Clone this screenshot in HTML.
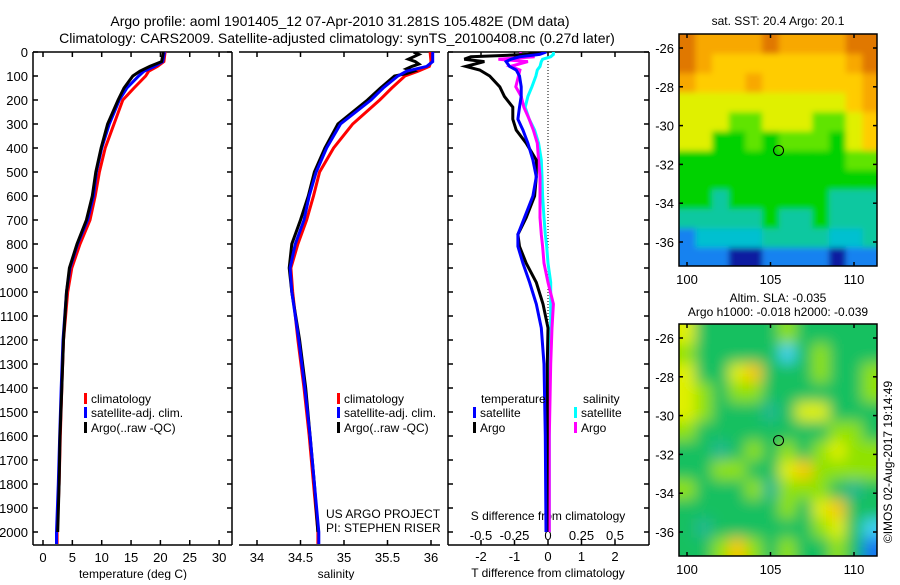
<!DOCTYPE html>
<html><head><meta charset="utf-8"><style>
html,body{margin:0;padding:0;background:#fff;}
svg text{font-family:"Liberation Sans",sans-serif;fill:#000;}
</style></head><body>
<svg id="fig" width="900" height="580" viewBox="0 0 900 580" xmlns="http://www.w3.org/2000/svg">
<defs>
<clipPath id="cp1"><rect x="33" y="52" width="199" height="493"/></clipPath>
<clipPath id="cp2"><rect x="239" y="52" width="201" height="493"/></clipPath>
<clipPath id="cp3"><rect x="448" y="52" width="201" height="493"/></clipPath>
<clipPath id="cm1"><rect x="679" y="34" width="198" height="232"/></clipPath>
<clipPath id="cm2"><rect x="679" y="324" width="198" height="232"/></clipPath>
<filter id="bl1" x="-20%" y="-20%" width="140%" height="140%"><feGaussianBlur stdDeviation="3"/></filter>
<filter id="bl2" x="-20%" y="-20%" width="140%" height="140%"><feGaussianBlur stdDeviation="7"/></filter>
</defs>
<text x="340" y="26" font-size="14" text-anchor="middle">Argo profile: aoml 1901405_12 07-Apr-2010 31.281S 105.482E (DM data)</text>
<text x="337" y="43" font-size="14" text-anchor="middle">Climatology: CARS2009. Satellite-adjusted climatology: synTS_20100408.nc (0.27d later)</text>
<g id="g"></g>
</svg>
<script>
// ---- data ----
var depthTicks=[0,100,200,300,400,500,600,700,800,900,1000,1100,1200,1300,1400,1500,1600,1700,1800,1900,2000];
var tTicks=[0,5,10,15,20,25,30];
var sTicks=[34,34.5,35,35.5,36];
var sTickLabels=["34","34.5","35","35.5","36"];
var dTTicks=[-2,-1,0,1,2];
var dSTicks=[-0.5,-0.25,0,0.25,0.5];
var dSTickLabels=["-0.5","-0.25","0","0.25","0.5"];

var profDepth=[0,40,60,80,100,150,200,300,400,500,600,700,800,900,1000,1200,1400,1600,1800,2000,2050];
var tClim=[20.8,20.6,19.5,18,17.5,15.5,13.6,12.1,10.6,9.6,8.9,8.0,6.3,4.9,4.2,3.5,3.2,2.95,2.75,2.4,2.4];
var tSat=[20.7,20.4,19,17.2,16.3,14.3,13.0,11.3,10.0,9.1,8.6,7.6,5.9,4.6,4.0,3.4,3.1,2.85,2.6,2.3,2.3];
var tArgo=[20.5,20.2,18.2,16.5,15.3,13.8,12.8,11.0,9.9,9.0,8.4,7.4,5.8,4.5,4.0,3.5,3.2,2.9,2.75,2.5];
var argoDepth=[0,40,60,80,100,150,200,300,400,500,600,700,800,900,1000,1200,1400,1600,1800,2000];

var sClim=[35.99,36.0,35.98,35.85,35.70,35.55,35.41,35.10,34.88,34.72,34.65,34.57,34.47,34.39,34.41,34.47,34.54,34.6,34.65,34.7,34.7];
var sSat=[36.02,36.02,35.95,35.72,35.62,35.45,35.31,34.96,34.80,34.68,34.60,34.54,34.44,34.38,34.40,34.48,34.55,34.61,34.66,34.71,34.71];
var sArgoDepth=[0,10,20,30,40,50,60,70,80,90,100,150,200,300,400,500,600,700,800,900,1000,1200,1400,1600,1800,2000];
var sArgo=[35.8,35.86,35.8,35.74,35.82,35.86,35.78,35.72,35.8,35.72,35.58,35.42,35.27,34.93,34.78,34.66,34.59,34.5,34.4,34.37,34.40,34.49,34.56,34.61,34.66,34.7];

var dDepth=[0,10,20,30,40,60,75,100,145,185,230,280,325,380,450,520,600,690,760,810,880,960,1050,1150,1300,1600,2000];
var dTSat=[-0.05,-0.25,-0.85,-1.1,-1.25,-1.15,-0.95,-0.85,-0.8,-0.8,-0.85,-0.9,-0.75,-0.6,-0.45,-0.35,-0.45,-0.7,-0.9,-0.9,-0.75,-0.55,-0.35,-0.2,-0.12,-0.08,-0.06];
var dTArgo=[-0.2,-0.6,-2.3,-2.5,-1.9,-2.45,-2.04,-1.74,-1.44,-1.3,-1.05,-1.05,-0.95,-0.65,-0.35,-0.35,-0.4,-0.65,-0.9,-0.85,-0.65,-0.35,-0.15,0,-0.02,-0.02,-0.03];
var dSSat=[0.04,0.04,0.02,-0.04,-0.05,-0.06,-0.08,-0.09,-0.12,-0.15,-0.17,-0.14,-0.1,-0.07,-0.05,-0.045,-0.04,-0.03,-0.02,-0.01,0.0,0.02,0.02,0.02,0.01,0.01,0.01];
var dSArgo=[-0.2,-0.21,-0.1,-0.37,-0.15,-0.28,-0.21,-0.22,-0.24,-0.2,-0.18,-0.14,-0.11,-0.08,-0.07,-0.06,-0.06,-0.06,-0.05,-0.04,-0.03,0.0,0.04,0.03,0.02,0.01,0.01];

var mapLons=[100,105,110];
var mapLats=[-26,-28,-30,-32,-34,-36];
var sstGrid=[
[9,8,8,8,8,9,8,8,8,8,9,9],
[9,8,7,7,7,7,7,7,7,7,8,9],
[8,7,7,7,8,7,7,7,7,7,7,8],
[6,6,6,6,6,6,6,6,6,6,7,8],
[6,6,6,5,5,6,6,6,5,5,6,7],
[6,6,4,4,5,4,5,5,5,4,6,7],
[4,4,4,4,4,4,4,4,4,4,5,5],
[4,4,4,4,4,4,4,4,4,4,4,4],
[4,4,3,4,4,4,4,4,4,3,3,3],
[3,3,3,3,3,4,3,3,4,3,3,3],
[1,2,2,2,2,3,3,3,3,2,2,3],
[1,1,1,0,0,1,1,1,1,0,1,1]];
var slaGrid=[
[5,3,3,3,3,3,4,3,3,3,3,3],
[4,3,3,3,3,3,1,3,4,3,3,3],
[5,3,3,5,6,3,3,3,4,3,3,4],
[5,4,3,4,4,3,3,3,3,3,3,4],
[5,4,3,3,3,2,3,5,5,3,3,3],
[4,3,3,3,3,3,3,3,3,4,4,3],
[3,3,2,3,4,3,4,3,4,5,4,4],
[3,3,4,4,3,3,5,6,4,4,4,4],
[4,3,3,3,4,2,4,4,4,3,2,3],
[3,3,3,3,3,3,4,3,5,6,3,3],
[3,2,3,3,3,3,3,3,4,5,3,1],
[3,3,4,6,4,3,4,3,3,4,3,0]];
var argoLon=105.482, argoLat=-31.281;

// ---- drawing ----
var NS="http://www.w3.org/2000/svg", G=document.getElementById('g');
function mk(tag,at,par){var e=document.createElementNS(NS,tag);for(var k in at)e.setAttribute(k,at[k]);(par||G).appendChild(e);return e;}
function Y(d){return 52+d*0.24;}
function XT(t){return 43+t*5.87;}
function XS(s){return 257+(s-34)*87;}
function XDT(t){return 548+t*33.5;}
function XDS(s){return 548+s*134;}
function MX(lon){return 687+(lon-100)*16.7;}
function MY1(lat){return 48+(-26-lat)*19.4;}
function MY2(lat){return 338+(-26-lat)*19.4;}

function line(x1,y1,x2,y2,name,extra){var e=mk('line',{x1:x1,y1:y1,x2:x2,y2:y2,stroke:'#000','stroke-width':1.5});


if(extra)for(var k in extra)e.setAttribute(k,extra[k]);return e;}
function txt(x,y,s,name,anchor,size){var e=mk('text',{x:x,y:y,'font-size':size||12,'text-anchor':anchor||'start'});e.textContent=s;


return e;}
function series(xs,ds,fx,color,clip,name){var p=[];for(var i=0;i<xs.length&&i<ds.length;i++)p.push(fx(xs[i]).toFixed(1)+','+Y(ds[i]).toFixed(1));
var e=mk('polyline',{points:p.join(' '),fill:'none',stroke:color,'stroke-width':3,'clip-path':'url(#'+clip+')'});

}

function frame(x0,x1,leftRight,name){
 line(x0,52,x1,52,name+'-top-axis');line(x0,545,x1,545,name+'-bottom-axis');
 if(leftRight){line(x0,52,x0,545,name+'-left-axis');line(x1,52,x1,545,name+'-right-axis');}
}
frame(33,232,true,'temp-panel');frame(239,440,false,'sal-panel');frame(448,649,true,'diff-panel');
depthTicks.forEach(function(d){
 line(33,Y(d),38,Y(d),'depth-tick');line(227,Y(d),232,Y(d),'depth-tick-right');
 line(448,Y(d),453,Y(d),'diff-depth-tick');line(644,Y(d),649,Y(d),'diff-depth-tick-right');
 txt(28,Y(d)+5,String(d),'depth-tick-label','end',13);
});
tTicks.forEach(function(t){line(XT(t),545,XT(t),540,'temp-tick');line(XT(t),52,XT(t),57,'temp-tick-top');txt(XT(t),562,String(t),'temp-tick-label','middle',13);});
txt(133,578,'temperature (deg C)','temp-axis-title','middle',12);
sTicks.forEach(function(s,i){line(XS(s),545,XS(s),540,'sal-tick');line(XS(s),52,XS(s),57,'sal-tick-top');txt(XS(s),562,sTickLabels[i],'sal-tick-label','middle',13);});
txt(336,578,'salinity','sal-axis-title','middle',12);
dTTicks.forEach(function(t){line(XDT(t),545,XDT(t),540,'dt-tick');line(XDT(t),52,XDT(t),57,'dt-tick-top');txt(XDT(t),561,String(t),'dt-tick-label','middle',13);});
dSTicks.forEach(function(s,i){txt(XDS(s),540,dSTickLabels[i],'ds-tick-label','middle',13);});
txt(548,520,'S difference from climatology','ds-axis-title','middle',12);
txt(548,577,'T difference from climatology','dt-axis-title','middle',12);
line(548,52,548,Y(1150),'zero-line',{'stroke-dasharray':'1,2','stroke-width':1});

series(tClim,profDepth,XT,'#ff0000','cp1','temp-climatology-line');
series(tSat,profDepth,XT,'#0000ff','cp1','temp-satellite-line');
series(tArgo,argoDepth,XT,'#000000','cp1','temp-argo-line');
series(sClim,profDepth,XS,'#ff0000','cp2','sal-climatology-line');
series(sArgo,sArgoDepth,XS,'#000000','cp2','sal-argo-line');
series(sSat,profDepth,XS,'#0000ff','cp2','sal-satellite-line');
series(dSSat,dDepth,XDS,'#00ffff','cp3','dsal-satellite-line');
series(dSArgo,dDepth,XDS,'#ff00ff','cp3','dsal-argo-line');
series(dTArgo,dDepth,XDT,'#000000','cp3','dtemp-argo-line');
series(dTSat,dDepth,XDT,'#0000ff','cp3','dtemp-satellite-line');

function leg(x,y,c,s,name){var r=mk('rect',{x:x,y:y-10,width:3,height:11,fill:c});


txt(x+7,y,s,name,'start',12);}
[[84,'temp'],[337,'sal']].forEach(function(p){
 leg(p[0],403,'#ff0000','climatology',p[1]+'-legend-climatology');
 leg(p[0],417,'#0000ff','satellite-adj. clim.',p[1]+'-legend-satellite');
 leg(p[0],432,'#000000','Argo(..raw -QC)',p[1]+'-legend-argo');
});
txt(481,403,'temperature','diff-legend-temperature-header','start',12);
txt(583,403,'salinity','diff-legend-salinity-header','start',12);
leg(473,417,'#0000ff','satellite','diff-legend-temp-satellite');
leg(473,432,'#000000','Argo','diff-legend-temp-argo');
leg(574,417,'#00ffff','satellite','diff-legend-sal-satellite');
leg(574,432,'#ff00ff','Argo','diff-legend-sal-argo');
txt(326,518,'US ARGO PROJECT','project-label','start',12);
txt(326,532,'PI: STEPHEN RISER','pi-label','start',12);

var sstCols=['#0a1ea0','#1482f0','#00c0d0','#10c8a0','#00d200','#60e400','#e0f000','#ffcc00','#f8a800','#e07800'];
var slaCols=['#1478f0','#40d0f0','#20b890','#18c060','#90e200','#e0f000','#f8c800'];
function drawMap(grid,cols,MY,clip,filt,name,cellName){
 var gg=mk('g',{'clip-path':'url(#'+clip+')'});
 
 
 var inner=mk('g',{filter:'url(#'+filt+')'},gg);
 var top=MY(-25.3);
 mk('rect',{x:660,y:top-20,width:240,height:280,fill:cols[grid[0][0]]},inner);
 for(var r=0;r<grid.length;r++)for(var c=0;c<grid[r].length;c++){
  var x0=MX(99.5+c),x1=MX(100.5+c),y0=MY(-25.3-r),y1=MY(-26.3-r);
  if(c==grid[r].length-1)x1+=20; if(r==grid.length-1)y1+=20; if(c==0)x0-=20; if(r==0)y0-=20;
  var e=mk('rect',{x:x0,y:y0,width:x1-x0+0.6,height:y1-y0+0.6,fill:cols[grid[r][c]]},inner);
  
  
 }
 var ci=mk('circle',{cx:MX(argoLon),cy:MY(argoLat),r:5,fill:'none',stroke:'#000','stroke-width':1});
 
 
}
drawMap(sstGrid,sstCols,MY1,'cm1','bl1','sst-map','sst-cell');
drawMap(slaGrid,slaCols,MY2,'cm2','bl2','sla-map','sla-cell');
[[34,266,MY1,'sst'],[324,556,MY2,'sla']].forEach(function(m){
 var r=mk('rect',{x:679,y:m[0],width:198,height:m[1]-m[0],fill:'none',stroke:'#000','stroke-width':1.5});
 
 
 mapLats.forEach(function(la){line(679,m[2](la),683,m[2](la),m[3]+'-lat-tick');line(873,m[2](la),877,m[2](la),m[3]+'-lat-tick-right');txt(674,m[2](la)+5,String(la),m[3]+'-lat-label','end',13);});
 mapLons.forEach(function(lo){line(MX(lo),m[1],MX(lo),m[1]-4,m[3]+'-lon-tick');line(MX(lo),m[0],MX(lo),m[0]+4,m[3]+'-lon-tick-top');txt(MX(lo),m[1]+18,String(lo),m[3]+'-lon-label','middle',13);});
});
txt(778,25,'sat. SST: 20.4  Argo: 20.1','sst-map-title','middle',12);
txt(778,302,'Altim. SLA: -0.035','sla-map-title','middle',12);
txt(778,316,'Argo h1000: -0.018  h2000: -0.039','sla-map-subtitle','middle',12);
var cr=txt(0,0,'\u00a9IMOS 02-Aug-2017 19:14:49','timestamp-label','middle',12);
cr.setAttribute('transform','translate(892,462) rotate(-90)');
</script>
</body></html>
